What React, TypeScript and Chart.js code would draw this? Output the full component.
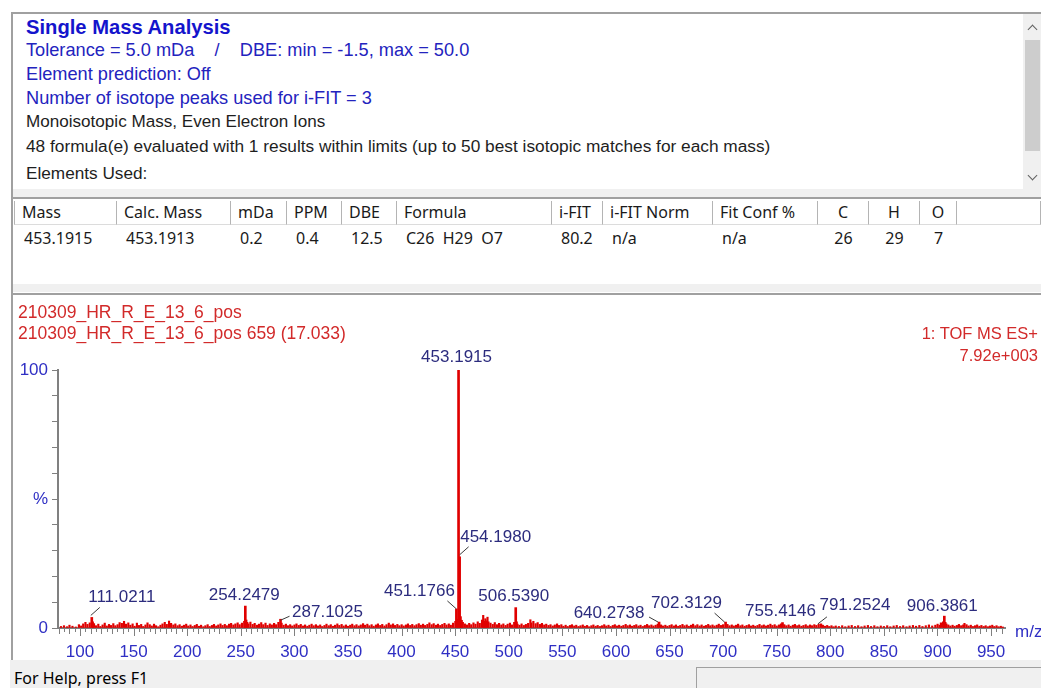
import React, { useEffect, useRef } from 'react';
import { Chart, registerables } from 'chart.js';

Chart.register(...registerables);

// ---------- data ----------
const peakMz = [111.0211, 254.2479, 287.1025, 451.1766, 453.1915, 454.198, 506.539, 640.2738, 702.3129, 755.4146, 791.2524, 906.3861];
const peakIntensity = [4.1, 8.5, 3.4, 7.4, 100, 27.6, 7.9, 2.3, 2.3, 2.1, 1.6, 4.6];
const peakLabels = ['111.0211', '254.2479', '287.1025', '451.1766', '453.1915', '454.1980', '506.5390', '640.2738', '702.3129', '755.4146', '791.2524', '906.3861'];

// small noise peaks [m/z, %]
const noisePeaks: [number, number][] = [
  [82.3, 0.6], [85.1, 0.9], [87.9, 0.5], [90.2, 1.1], [93.0, 0.7], [96.1, 0.4], [99.0, 1.3], [101.1, 0.8], [103.0, 1.6], [105.1, 2.2],
  [107.0, 1.4], [109.1, 2.0], [112.0, 2.4], [113.1, 1.7], [115.0, 0.9], [117.1, 1.5], [119.0, 0.6], [121.1, 1.2], [123.1, 1.9], [125.0, 0.8],
  [127.1, 1.4], [129.0, 1.0], [131.1, 1.7], [133.0, 0.9], [135.1, 1.3], [137.0, 2.1], [139.1, 1.8], [141.1, 2.6], [143.0, 1.5], [145.1, 2.0],
  [147.0, 1.1], [149.1, 1.6], [151.0, 0.7], [153.1, 1.9], [155.0, 1.0], [157.1, 1.4], [159.0, 0.6], [161.1, 1.2], [163.0, 2.0], [165.1, 1.3],
  [167.0, 0.8], [169.1, 1.5], [171.0, 0.9], [173.1, 0.5], [175.1, 1.1], [177.0, 1.6], [179.1, 2.2], [181.0, 1.4], [183.1, 2.7], [185.0, 1.8],
  [187.1, 1.2], [189.0, 1.6], [191.1, 0.9], [193.0, 1.3], [195.1, 0.7], [197.0, 1.1], [199.1, 1.5], [201.0, 0.8], [203.1, 1.2], [205.0, 0.6],
  [207.1, 1.0], [209.0, 1.4], [211.1, 0.7], [213.0, 1.1], [215.1, 0.5], [217.0, 0.9], [219.1, 1.3], [221.0, 0.6], [223.1, 1.0], [225.0, 1.4],
  [227.1, 0.8], [229.0, 1.2], [231.1, 1.6], [233.0, 1.0], [235.1, 1.4], [237.0, 0.9], [239.1, 1.5], [241.0, 1.8], [243.1, 1.2], [245.0, 1.6],
  [247.1, 2.0], [249.0, 1.3], [251.1, 1.9], [253.2, 2.6], [255.2, 3.1], [256.1, 2.2], [257.1, 1.6], [259.0, 2.3], [261.1, 1.4], [263.0, 1.8],
  [265.1, 1.1], [267.0, 1.5], [269.1, 2.1], [271.0, 1.3], [273.1, 1.9], [275.0, 1.0], [277.1, 1.6], [279.0, 1.2], [281.1, 1.8], [283.0, 1.3],
  [285.1, 2.2], [288.1, 1.9], [290.0, 1.1], [292.1, 1.5], [294.0, 0.9], [296.1, 1.3], [298.0, 0.8], [300.1, 1.2], [302.0, 1.6], [304.1, 1.0],
  [306.0, 1.4], [308.1, 0.8], [310.0, 1.2], [312.1, 0.7], [314.0, 1.1], [316.1, 1.5], [318.0, 0.9], [320.1, 1.3], [322.0, 0.8], [324.1, 1.2],
  [326.0, 0.6], [328.1, 1.0], [330.0, 1.5], [332.1, 0.9], [334.0, 1.3], [336.1, 0.7], [338.0, 1.1], [340.1, 1.6], [342.0, 1.0], [344.1, 1.4],
  [346.0, 0.8], [348.1, 1.2], [350.0, 0.7], [352.1, 1.1], [354.0, 1.5], [356.1, 0.9], [358.0, 1.3], [360.1, 0.8], [362.0, 1.2], [364.1, 1.7],
  [366.0, 1.1], [368.1, 1.5], [370.0, 0.9], [372.1, 1.3], [374.0, 0.7], [376.1, 1.2], [378.0, 1.6], [380.1, 1.0], [382.0, 1.4], [384.1, 0.8],
  [386.0, 1.3], [388.1, 1.9], [390.0, 1.2], [392.1, 1.6], [394.0, 1.0], [396.1, 1.4], [398.0, 0.9], [400.1, 1.3], [402.0, 0.8], [404.1, 1.2],
  [406.0, 1.6], [408.1, 1.0], [410.0, 1.4], [412.1, 0.9], [414.0, 1.3], [416.1, 1.7], [418.0, 1.1], [420.1, 1.5], [422.0, 1.0], [424.1, 1.4],
  [426.0, 2.0], [428.1, 1.3], [430.0, 1.7], [432.1, 1.1], [434.0, 1.5], [436.1, 1.0], [438.0, 1.4], [440.1, 1.8], [442.0, 1.2], [444.1, 1.6],
  [446.0, 1.1], [448.1, 1.9], [450.2, 2.6], [452.2, 3.4], [455.2, 4.4], [456.2, 3.0], [457.2, 2.2], [459.1, 1.6], [461.0, 1.2], [463.1, 1.8],
  [465.0, 1.3], [467.1, 2.0], [469.0, 1.5], [471.1, 2.4], [473.0, 1.8], [475.1, 3.1], [476.2, 4.9], [477.1, 2.6], [478.2, 3.6], [479.1, 2.8],
  [480.2, 4.2], [481.1, 2.4], [483.0, 1.9], [485.1, 1.4], [487.0, 2.1], [489.1, 1.3], [491.0, 1.8], [493.1, 1.2], [495.0, 1.6], [497.1, 1.0],
  [499.0, 1.5], [501.1, 1.9], [503.0, 1.2], [505.1, 2.2], [507.5, 2.4], [508.2, 1.5], [510.1, 1.1], [512.0, 1.6], [514.1, 1.0], [516.0, 1.4],
  [518.1, 1.8], [520.2, 3.2], [521.1, 2.0], [523.0, 2.6], [525.1, 1.7], [527.0, 2.1], [529.1, 1.4], [531.0, 1.8], [533.1, 1.2], [535.0, 1.5],
  [537.1, 1.0], [539.0, 1.3], [541.1, 0.8], [543.0, 1.2], [545.1, 1.6], [547.0, 1.0], [549.1, 1.3], [551.0, 0.7], [553.1, 1.1], [555.0, 0.6],
  [557.1, 1.0], [559.0, 1.3], [561.1, 0.8], [563.0, 1.1], [565.1, 0.6], [567.0, 0.9], [569.1, 1.2], [571.0, 0.7], [573.1, 1.0], [575.0, 0.5],
  [577.1, 0.9], [579.0, 1.2], [581.1, 0.7], [583.0, 1.0], [585.1, 0.6], [587.0, 0.9], [589.1, 1.3], [591.0, 0.8], [593.1, 1.1], [595.0, 0.6],
  [597.1, 1.0], [599.0, 1.3], [601.1, 0.8], [603.0, 1.1], [605.1, 0.7], [607.0, 1.0], [609.1, 1.4], [611.0, 0.9], [613.1, 1.2], [615.0, 0.7],
  [617.1, 1.0], [619.0, 1.3], [621.1, 0.8], [623.0, 1.1], [625.1, 0.6], [627.0, 1.0], [629.1, 1.4], [631.0, 0.9], [633.1, 1.2], [635.0, 0.8],
  [637.1, 1.1], [639.0, 1.5], [642.1, 1.2], [644.0, 0.8], [646.1, 1.1], [648.0, 0.7], [650.1, 1.0], [652.0, 1.3], [654.1, 0.8], [656.0, 1.2],
  [658.1, 0.7], [660.0, 1.0], [662.1, 1.4], [664.0, 0.9], [666.1, 1.2], [668.0, 0.7], [670.1, 1.1], [672.0, 1.5], [674.1, 0.9], [676.0, 1.3],
  [678.1, 0.8], [680.0, 1.2], [682.1, 0.7], [684.0, 1.0], [686.1, 1.4], [688.0, 0.9], [690.1, 1.2], [692.0, 0.8], [694.1, 1.1], [696.0, 1.5],
  [698.1, 1.0], [700.0, 1.3], [704.1, 1.4], [706.0, 0.9], [708.1, 1.2], [710.0, 0.8], [712.1, 1.1], [714.0, 1.5], [716.1, 0.9], [718.0, 1.2],
  [720.1, 0.7], [722.0, 1.0], [724.1, 1.3], [726.0, 0.8], [728.1, 1.1], [730.0, 0.7], [732.1, 1.0], [734.0, 1.4], [736.1, 0.9], [738.0, 1.2],
  [740.1, 0.8], [742.0, 1.1], [744.1, 1.5], [746.0, 1.0], [748.1, 1.3], [750.0, 0.8], [752.1, 1.2], [754.0, 1.6], [757.1, 1.3], [759.0, 0.9],
  [761.1, 1.2], [763.0, 0.7], [765.1, 1.1], [767.0, 1.4], [769.1, 0.9], [771.0, 1.2], [773.1, 0.7], [775.0, 1.0], [777.1, 1.3], [779.0, 0.8],
  [781.1, 1.2], [783.0, 0.9], [785.1, 1.3], [787.0, 1.0], [789.1, 1.4], [793.1, 1.1], [795.0, 0.7], [797.1, 1.0], [799.0, 0.6], [801.1, 0.9],
  [803.0, 0.5], [805.1, 0.8], [808.0, 0.6], [811.1, 0.9], [814.0, 0.5], [817.1, 0.8], [820.0, 1.0], [823.1, 0.6], [826.0, 0.9], [829.1, 0.5],
  [832.0, 0.8], [835.1, 1.0], [838.0, 0.6], [841.1, 0.9], [844.0, 0.5], [847.1, 0.8], [850.0, 0.6], [853.1, 0.9], [856.0, 0.5], [859.1, 0.8],
  [862.0, 1.0], [865.1, 0.6], [868.0, 0.9], [871.1, 0.5], [874.0, 0.8], [877.1, 1.0], [880.0, 0.7], [883.1, 1.0], [886.0, 0.6], [889.1, 0.9],
  [892.0, 1.2], [895.1, 0.8], [898.0, 1.1], [900.1, 1.5], [902.0, 1.1], [903.2, 2.0], [905.2, 2.4], [907.4, 2.2], [908.3, 1.6], [910.1, 1.2],
  [912.0, 0.8], [914.1, 1.1], [916.0, 0.7], [918.1, 1.0], [920.0, 1.4], [922.1, 0.9], [924.0, 1.2], [925.2, 1.8], [927.1, 1.3], [929.0, 0.8],
  [931.1, 1.1], [933.0, 0.6], [935.1, 0.9], [937.0, 1.2], [939.1, 0.7], [941.0, 1.0], [943.1, 0.6], [945.0, 0.9], [947.1, 0.5], [949.0, 0.8],
  [951.1, 1.1], [953.0, 0.6], [955.1, 0.9], [957.0, 0.5], [959.1, 0.7], [961.0, 0.4],
];

const xTickValues = [100, 150, 200, 250, 300, 350, 400, 450, 500, 550, 600, 650, 700, 750, 800, 850, 900, 950];
const yTickValues = [0, 10, 20, 30, 40, 50, 60, 70, 80, 90, 100];
const yTickText: Record<number, string> = { 0: '0', 50: '%', 100: '100' };
const X_MIN = 79.5;
const X_MAX = 963;
const MINOR_STEP = 5;

// table
const columnHeaders = ['Mass', 'Calc. Mass', 'mDa', 'PPM', 'DBE', 'Formula', 'i-FIT', 'i-FIT Norm', 'Fit Conf %', 'C', 'H', 'O', ''];
const resultRow = ['453.1915', '453.1913', '0.2', '0.4', '12.5', 'C26  H29  O7', '80.2', 'n/a', 'n/a', '26', '29', '7', ''];

// ---------- layout / style (not data) ----------
const columnEdges = [14, 117, 231, 287, 342, 397, 552, 603, 713, 818, 869, 920, 957, 1041];
const centeredCols = [9, 10, 11];
// label centre offset from the peak tip, and leader line (from, to) relative to tip
const labelPlacement: { dx: number; dy: number; lead: number[] | null }[] = [
  { dx: 30, dy: -20, lead: [-1, -2, 8, -10] },
  { dx: -1, dy: -11, lead: null },
  { dx: 47, dy: -7, lead: [0, 1, 9, -3] },
  { dx: -37, dy: -18, lead: [-9, -8, 0, 0] },
  { dx: -2, dy: -13, lead: null },
  { dx: 36, dy: -19, lead: [0, -2, 9, -10] },
  { dx: -2, dy: -11, lead: null },
  { dx: -50, dy: -9, lead: [-10, -5, -1, 0] },
  { dx: -39, dy: -19, lead: [-11, -9, -1, 0] },
  { dx: -2, dy: -11, lead: null },
  { dx: 34, dy: -19, lead: [-3, 0, 6, -7] },
  { dx: -2, dy: -10, lead: null },
];

const ARIAL = "'Liberation Sans', Arial, sans-serif";
const UI = "'Noto Sans', 'Segoe UI', sans-serif";
const AXIS_BLUE = '#2f2fc4';
const LABEL_BLUE = '#2c2c7e';
const SPEC_RED = '#e00000';
const TEXT_RED = '#d22a2a';

const decorPlugin = {
  id: 'specDecor',
  afterDraw(chart: any) {
    const ctx = chart.ctx as CanvasRenderingContext2D;
    const xs = chart.scales.x;
    const ys = chart.scales.y;
    const y0 = ys.getPixelForValue(0);
    ctx.save();
    // x ticks
    ctx.strokeStyle = '#808080';
    ctx.lineWidth = 1;
    ctx.beginPath();
    for (let v = Math.ceil(X_MIN / MINOR_STEP) * MINOR_STEP; v <= X_MAX; v += MINOR_STEP) {
      const x = Math.round(xs.getPixelForValue(v)) + 0.5;
      const len = v % 50 === 0 ? 7 : v % 10 === 0 ? 5 : 3;
      ctx.moveTo(x, y0 + 1);
      ctx.lineTo(x, y0 + 1 + len);
    }
    ctx.stroke();
    // m/z
    ctx.fillStyle = AXIS_BLUE;
    ctx.font = `17px ${ARIAL}`;
    ctx.textAlign = 'left';
    ctx.textBaseline = 'middle';
    ctx.fillText('m/z', chart.chartArea.right + 10, y0 + 4);
    // peak labels
    ctx.textAlign = 'center';
    ctx.strokeStyle = '#3a3a3a';
    peakMz.forEach((mz, i) => {
      const px = xs.getPixelForValue(mz);
      const py = ys.getPixelForValue(peakIntensity[i]);
      const p = labelPlacement[i];
      ctx.fillStyle = LABEL_BLUE;
      ctx.fillText(peakLabels[i], px + p.dx, py + p.dy);
      if (p.lead) {
        ctx.beginPath();
        ctx.moveTo(px + p.lead[0], py + p.lead[1]);
        ctx.lineTo(px + p.lead[2], py + p.lead[3]);
        ctx.stroke();
      }
    });
    ctx.restore();
  },
};

function SpectrumChart() {
  const ref = useRef<HTMLCanvasElement>(null);
  useEffect(() => {
    if (!ref.current) return;
    const chart = new Chart(ref.current, {
      type: 'bar',
      data: {
        datasets: [
          {
            label: 'noise',
            data: noisePeaks.map(([x, y]) => ({ x, y })),
            backgroundColor: SPEC_RED,
            barThickness: 1.5,
            grouped: false,
            borderWidth: 0,
          } as any,
          {
            label: 'peaks',
            data: peakMz.map((x, i) => ({ x, y: peakIntensity[i] })),
            backgroundColor: SPEC_RED,
            barThickness: 2,
            grouped: false,
            borderWidth: 0,
          } as any,
        ],
      },
      options: {
        animation: false,
        responsive: false,
        maintainAspectRatio: false,
        devicePixelRatio: 1,
        layout: { padding: { left: 0, right: 36, top: 74, bottom: 0 } },
        plugins: { legend: { display: false }, tooltip: { enabled: false } },
        scales: {
          x: {
            type: 'linear',
            min: X_MIN,
            max: X_MAX,
            offset: false,
            afterBuildTicks: (s: any) => { s.ticks = xTickValues.map((value) => ({ value })); },
            afterFit: (s: any) => { s.height = 32; },
            ticks: {
              autoSkip: false,
              maxRotation: 0,
              padding: 6,
              color: AXIS_BLUE,
              font: { family: ARIAL, size: 17 },
              callback: (v: any) => String(v),
            },
            grid: { display: false, offset: false },
            border: { display: true, color: '#808080', width: 2 },
          },
          y: {
            min: 0,
            max: 100,
            afterBuildTicks: (s: any) => { s.ticks = yTickValues.map((value) => ({ value })); },
            afterFit: (s: any) => { s.width = 45; },
            ticks: {
              autoSkip: false,
              padding: 4,
              color: AXIS_BLUE,
              font: { family: ARIAL, size: 17 },
              callback: (v: any) => yTickText[v as number] ?? '',
            },
            grid: { drawOnChartArea: false, drawTicks: true, tickLength: 6, color: '#808080', lineWidth: 1 },
            border: { display: true, color: '#808080', width: 2 },
          },
        },
      } as any,
      plugins: [decorPlugin],
    });
    return () => chart.destroy();
  }, []);
  return <canvas ref={ref} width={1028} height={364} style={{ position: 'absolute', left: 13, top: 296, width: 1028, height: 364 }} />;
}

const abs = (s: React.CSSProperties): React.CSSProperties => ({ position: 'absolute', ...s });

const infoLines: { text: string; color: string; y: number; size: number }[] = [
  { text: 'Tolerance = 5.0 mDa    /    DBE: min = -1.5, max = 50.0', color: '#2323be', y: 50, size: 18.2 },
  { text: 'Element prediction: Off', color: '#2323be', y: 74, size: 18.2 },
  { text: 'Number of isotope peaks used for i-FIT = 3', color: '#2323be', y: 98, size: 18.2 },
  { text: 'Monoisotopic Mass, Even Electron Ions', color: '#1e1e1e', y: 122, size: 17.1 },
  { text: '48 formula(e) evaluated with 1 results within limits (up to 50 best isotopic matches for each mass)', color: '#1e1e1e', y: 146, size: 17.3 },
  { text: 'Elements Used:', color: '#1e1e1e', y: 173, size: 17.2 },
];

function Chevron({ x, y, up }: { x: number; y: number; up: boolean }) {
  return (
    <div
      style={abs({
        left: x, top: y, width: 6, height: 6,
        borderLeft: '1.5px solid #606060', borderTop: '1.5px solid #606060',
        transform: up ? 'rotate(45deg)' : 'rotate(225deg)',
      })}
    />
  );
}

export default function App() {
  return (
    <div style={{ position: 'fixed', left: 0, top: 0, width: 1041, height: 688, background: '#ffffff', overflow: 'hidden', fontFamily: ARIAL }}>
      {/* info panel */}
      <div style={abs({ left: 11, top: 12, width: 1030, height: 185, borderTop: '2px solid #a0a0a0', borderLeft: '2px solid #a0a0a0', boxSizing: 'border-box', background: '#fff' })} />
      <div style={abs({ left: 13, top: 189, width: 1028, height: 8, background: '#f0f0f0' })} />
      <div style={abs({ left: 26, top: 15, fontSize: 20.2, fontWeight: 700, color: '#1414cc', lineHeight: '24px', whiteSpace: 'pre' })}>Single Mass Analysis</div>
      {infoLines.map((l) => (
        <div key={l.text} style={abs({ left: 26, top: l.y - 11, fontSize: l.size, lineHeight: '22px', color: l.color, whiteSpace: 'pre' })}>{l.text}</div>
      ))}
      {/* scrollbar */}
      <div style={abs({ left: 1023, top: 14, width: 18, height: 175, background: '#f0f0f0' })} />
      <div style={abs({ left: 1025, top: 40, width: 15, height: 111, background: '#cdcdcd' })} />
      <Chevron x={1029} y={26} up />
      <Chevron x={1029} y={172} up={false} />

      {/* table panel */}
      <div style={abs({ left: 11, top: 197, width: 1030, height: 96, borderTop: '2px solid #a0a0a0', borderLeft: '2px solid #a0a0a0', boxSizing: 'border-box', background: '#fff' })} />
      <div style={abs({ left: 13, top: 284, width: 1028, height: 8, background: '#f0f0f0' })} />
      {columnHeaders.map((h, i) => (
        <div
          key={'h' + i}
          style={abs({
            left: columnEdges[i], top: 201, width: columnEdges[i + 1] - columnEdges[i], height: 24,
            boxSizing: 'border-box', borderRight: '1px solid #b4b4b4', borderLeft: i === 0 ? '1px solid #b4b4b4' : undefined,
            borderBottom: '1px solid #dcdcdc', fontFamily: UI, fontSize: 16, lineHeight: '23px', color: '#1a1a1a',
            paddingLeft: centeredCols.includes(i) ? 0 : 7, textAlign: centeredCols.includes(i) ? 'center' : 'left', whiteSpace: 'pre',
          })}
        >
          {h}
        </div>
      ))}
      {resultRow.map((v, i) => (
        <div
          key={'r' + i}
          style={abs({
            left: columnEdges[i], top: 227, width: columnEdges[i + 1] - columnEdges[i], height: 22,
            fontFamily: UI, fontSize: 16, lineHeight: '22px', color: '#1a1a1a',
            paddingLeft: centeredCols.includes(i) ? 0 : i === 0 ? 10 : 9, boxSizing: 'border-box',
            textAlign: centeredCols.includes(i) ? 'center' : 'left', whiteSpace: 'pre',
          })}
        >
          {v}
        </div>
      ))}

      {/* chart panel */}
      <div style={abs({ left: 11, top: 293, width: 1030, height: 367, borderTop: '2px solid #a0a0a0', borderLeft: '2px solid #a0a0a0', boxSizing: 'border-box', background: '#fff' })} />
      <SpectrumChart />
      <div style={abs({ left: 18, top: 302, fontSize: 17.5, lineHeight: '20px', color: TEXT_RED, whiteSpace: 'pre' })}>210309_HR_R_E_13_6_pos</div>
      <div style={abs({ left: 18, top: 323, fontSize: 17.5, lineHeight: '20px', color: TEXT_RED, whiteSpace: 'pre' })}>210309_HR_R_E_13_6_pos 659 (17.033)</div>
      <div style={abs({ right: 3, top: 323, fontSize: 16.5, lineHeight: '20px', color: TEXT_RED, whiteSpace: 'pre', textAlign: 'right' })}>1: TOF MS ES+</div>
      <div style={abs({ right: 3, top: 345, fontSize: 16.5, lineHeight: '20px', color: TEXT_RED, whiteSpace: 'pre', textAlign: 'right' })}>7.92e+003</div>

      {/* status bar */}
      <div style={abs({ left: 10, top: 660, width: 1031, height: 28, background: '#f0f0f0' })} />
      <div style={abs({ left: 14, top: 667, fontFamily: UI, fontSize: 16, lineHeight: '22px', color: '#000' })}>For Help, press F1</div>
      <div style={abs({ left: 696, top: 667, width: 345, height: 21, borderTop: '1px solid #a0a0a0', borderLeft: '1px solid #a0a0a0', boxSizing: 'border-box', background: '#f0f0f0' })} />
    </div>
  );
}
